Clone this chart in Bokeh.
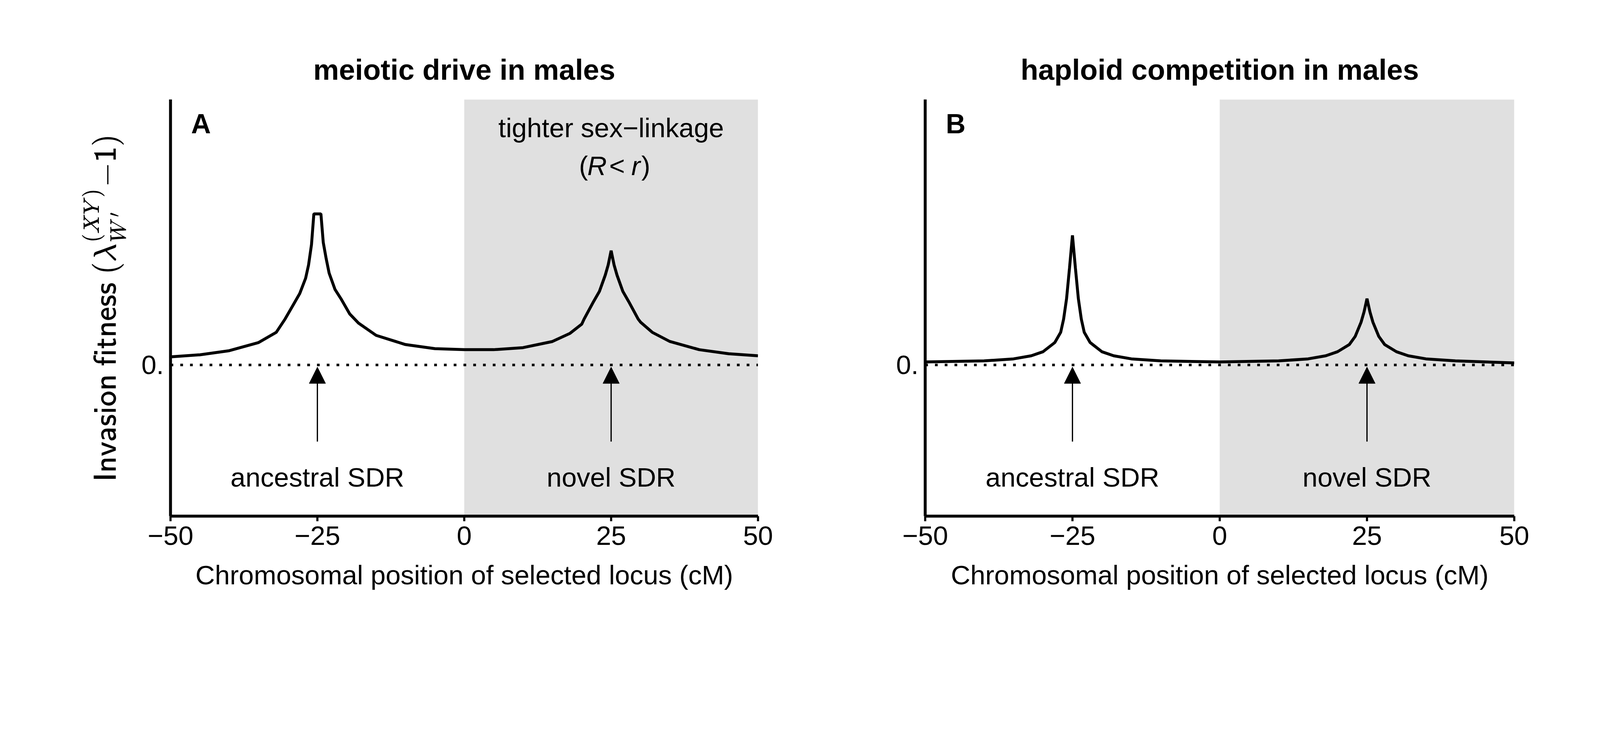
from bokeh.plotting import figure
from bokeh.layouts import row
from bokeh.models import BoxAnnotation, Arrow, NormalHead, FixedTicker, Range1d
from bokeh.core.properties import value
from bokeh.embed import file_html
from bokeh.resources import INLINE

# panel A: meiotic drive
xa = [-50, -45, -40, -35, -32, -30.5, -29, -28, -27, -26.5, -26, -25.6, -24.4, -24, -23.5, -23, -22, -21,
      -19.5, -18, -15, -10, -5, 0, 5, 10, 15, 18, 20, 20.4, 22, 23, 24, 24.5, 25, 25.5, 26, 27, 28,
      29.6, 30, 32, 35, 40, 45, 50]
ya = [8, 10, 14, 22, 32, 45, 60, 70, 85, 98, 118, 148, 148, 120, 104, 90, 74, 65,
      50, 41, 29, 20, 16, 15, 15, 17, 23, 31, 40, 45, 62, 72, 88, 98, 112, 98, 88, 72, 62,
      45, 42, 32, 23, 15, 11, 9]
# panel B: haploid competition
xb = [-50, -40, -35, -32, -30, -28, -27, -26.5, -26, -25.5, -25, -24.5, -24, -23.5, -23, -22, -20, -18,
      -15, -10, 0, 10, 15, 18, 20, 22, 23, 24, 24.5, 25, 25.5, 26, 27, 28, 30, 32, 35, 40, 50]
yb = [3, 4, 6, 9, 13, 22, 32, 45, 65, 95, 127, 95, 65, 45, 32, 22, 13, 9,
      6, 4, 3, 4, 6, 9, 13, 20, 28, 42, 52, 65, 52, 42, 28, 20, 13, 9, 6, 4, 2]

x_ticks = [-50, -25, 0, 25, 50]
x_tick_labels = ["\u221250", "\u221225", "0", "25", "50"]
sdr_pos = [-25, 25]
sdr_names = ["ancestral SDR", "novel SDR"]

FONT = "Liberation Sans"
FS = "69px"


def panel(xs, ys, title, letter, w, bl, br, ylabel):
    p = figure(width=w, height=1720, output_backend="svg", toolbar_location=None,
               x_range=Range1d(-50, 50), y_range=Range1d(-148, 260),
               min_border_left=bl, min_border_right=br, min_border_top=254, min_border_bottom=400)
    p.title.text = title
    p.title.align = "center"
    p.title.text_font = FONT
    p.title.text_font_style = "bold"
    p.title.text_font_size = "74px"
    p.title.text_color = "black"
    p.title.offset = 0
    p.title.standoff = 70
    p.grid.visible = False
    p.outline_line_color = None
    p.background_fill_color = "white"

    p.add_layout(BoxAnnotation(left=0, right=50, fill_color="#e0e0e0", fill_alpha=1,
                               line_color=None, level="underlay"))
    p.line([-50, 50], [0, 0], line_color="black", line_width=6.5, line_dash="7 18")
    p.line(xs, ys, line_color="black", line_width=7.5)
    for xp in sdr_pos:
        p.add_layout(Arrow(x_start=xp, y_start=-75, x_end=xp, y_end=-2, line_width=3.2,
                           end=NormalHead(size=42, fill_color="black", line_color="black")))
    p.text(sdr_pos, [-110, -110], text=sdr_names, text_font=value(FONT), text_font_size=FS,
           text_align="center", text_baseline="middle")
    p.text([-46.5], [236], text=[letter], text_font=value(FONT), text_font_size="70px",
           text_font_style="bold", text_baseline="middle")

    p.xaxis.ticker = FixedTicker(ticks=x_ticks)
    p.xaxis.major_label_overrides = dict(zip(x_ticks, x_tick_labels))
    p.yaxis.ticker = FixedTicker(ticks=[0])
    p.yaxis.major_label_overrides = {0: "0."}
    for ax in (p.xaxis, p.yaxis):
        ax.axis_line_width = 7.5
        ax.axis_line_color = "black"
        ax.major_label_text_font = FONT
        ax.major_label_text_font_size = FS
        ax.major_label_text_color = "black"
        ax.axis_label_text_font = FONT
        ax.axis_label_text_font_size = FS
        ax.axis_label_text_font_style = "normal"
        ax.axis_label_text_color = "black"
        ax.minor_tick_line_color = None
    p.xaxis.major_tick_line_width = 5.5
    p.xaxis.major_tick_out = 13
    p.xaxis.major_tick_in = 0
    p.xaxis.major_label_standoff = 13
    p.xaxis.axis_label = "Chromosomal position of selected locus (cM)"
    p.xaxis.axis_label_standoff = 36
    p.yaxis.major_tick_line_color = None
    p.yaxis.major_label_standoff = 11
    if ylabel:
        p.yaxis.axis_label = ylabel
        p.yaxis.axis_label_standoff = 36
    return p


pa = panel(xa, ya, "meiotic drive in males", "A", 2040, 436, 100,
           r"$$\mathsf{Invasion\ fitness}\ (\lambda_{W'}^{(XY)}\mathsf{-1})$$")
pa.text([25], [232], text=["tighter sex\u2212linkage"], text_font=value(FONT), text_font_size=FS,
        text_align="center", text_baseline="middle")
pa.text([20.3, 26.0], [195, 195], text=["(", "<"], text_font=value(FONT), text_font_size=FS,
        text_align="center", text_baseline="middle")
pa.text([22.6, 29.2], [195, 195], text=["R", "r"], text_font=value(FONT), text_font_size=FS,
        text_font_style="italic", text_align="center", text_baseline="middle")
pa.text([30.9], [195], text=[")"], text_font=value(FONT), text_font_size=FS,
        text_align="center", text_baseline="middle")

pb = panel(xb, yb, "haploid competition in males", "B", 2040, 328, 204, None)

p = row(pa, pb)
open("out.html", "w").write(file_html(p, INLINE))
